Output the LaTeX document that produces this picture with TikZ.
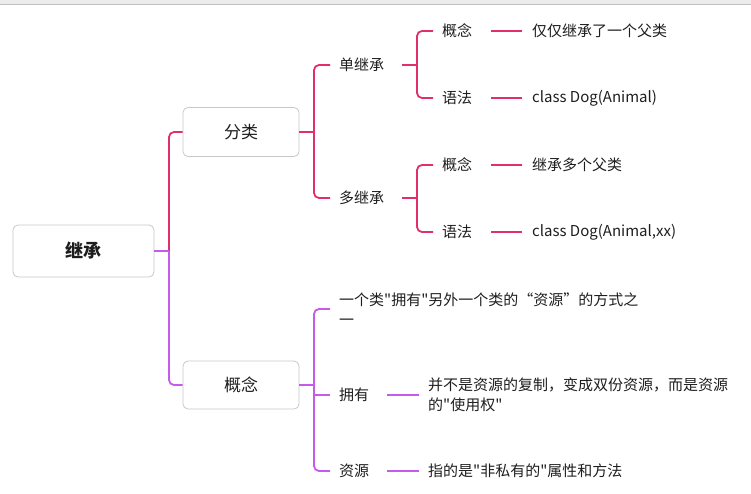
\documentclass[tikz,border=0pt]{standalone}
\usepackage{fontspec}
\newfontfamily\cjk{Noto Sans CJK SC}
\newfontfamily\cjkfw{Noto Sans CJK SC}[CharacterWidth=Full]
\usetikzlibrary{calc}
\definecolor{redl}{RGB}{225,48,105}
\definecolor{purl}{RGB}{197,90,235}
\definecolor{txt}{RGB}{30,30,30}
\definecolor{boxline}{RGB}{200,200,200}
\definecolor{bandfill}{RGB}{236,236,236}
\definecolor{bandline}{RGB}{192,192,192}
\tikzset{
  base/.style={text=txt, font=\cjk\fontsize{15}{20}\selectfont},
  topicbox/.style={base, draw=boxline, line width=0.8pt, rounded corners=5pt, fill=white, font=\cjk\fontsize{17}{20}\selectfont, minimum width=116pt, minimum height=49pt, inner sep=0pt},
  rootbox/.style={topicbox, minimum width=141pt, minimum height=52pt, font=\cjk\fontsize{18}{20}\selectfont\bfseries},
  lab/.style={base, anchor=west, inner xsep=9pt, inner ysep=2pt, align=left},
  rl/.style={draw=redl, line width=1.8pt},
  pl/.style={draw=purl, line width=1.8pt},
  rc/.style={rounded corners=5pt},
}
\begin{document}
\begin{tikzpicture}[x=1pt,y=-1pt]
\useasboundingbox (0,0) rectangle (751,493);
\fill[bandfill] (0,0) rectangle (751,4);
\draw[bandline, line width=1pt] (0,4.5) -- (751,4.5);

% main boxes
\node[rootbox] (root) at (83.5,251) {继承};
\node[topicbox] (fl) at (241,132) {分类};
\node[topicbox, minimum height=48pt] (gn) at (241,385) {概念};

% level 2
\node[lab, text width=54pt] (dan) at (330,65) {单继承};
\node[lab, text width=54pt] (duo) at (330,198) {多继承};
\node[lab] (gd) at (330,309) {一个类"拥有"另外一个类的{\cjkfw “}资源{\cjkfw ”}的方式之\\一};
\node[lab, text width=39pt] (yy) at (330,395) {拥有};
\node[lab, text width=39pt] (zy) at (330,471) {资源};

% level 3
\node[lab, text width=40pt] (g1) at (433,31) {概念};
\node[lab, text width=40pt] (y1) at (433,98) {语法};
\node[lab, text width=40pt] (g2) at (433,165) {概念};
\node[lab, text width=40pt] (y2) at (433,232) {语法};

% leaves
\node[lab, inner xsep=10pt] (l1) at (522,31) {仅仅继承了一个父类};
\node[lab, inner xsep=10pt] (l2) at (522,98) {class Dog(Animal)};
\node[lab, inner xsep=10pt] (l3) at (522,165) {继承多个父类};
\node[lab, inner xsep=10pt] (l4) at (522,232) {class Dog(Animal,xx)};
\node[lab] (l5) at (419,395) {并不是资源的复制，变成双份资源，而是资源\\的"使用权"};
\node[lab] (l6) at (419,471) {指的是"非私有的"属性和方法};

% junctions
\coordinate (j1) at (169,251);
\coordinate (j2) at (314,132);
\coordinate (j3) at (417,65);
\coordinate (j4) at (417,198);
\coordinate (j5) at (314,385);

% connectors: root
\draw[rl, rc] (j1) |- (fl.west);
\draw[pl] (root.east) -- (j1);
\draw[pl, rc] (j1) |- (gn.west);

% 分类
\draw[rl] (fl.east) -- (j2);
\draw[rl, rc] (j2) |- (dan.west);
\draw[rl, rc] (j2) |- (duo.west);

% 单继承
\draw[rl] (dan.east) -- (j3);
\draw[rl, rc] (j3) |- (g1.west);
\draw[rl, rc] (j3) |- (y1.west);
\draw[rl] (g1.east) -- (l1.west);
\draw[rl] (y1.east) -- (l2.west);

% 多继承
\draw[rl] (duo.east) -- (j4);
\draw[rl, rc] (j4) |- (g2.west);
\draw[rl, rc] (j4) |- (y2.west);
\draw[rl] (g2.east) -- (l3.west);
\draw[rl] (y2.east) -- (l4.west);

% 概念
\draw[pl] (gn.east) -- (j5);
\draw[pl, rc] (j5) |- (gd.west);
\draw[pl] (j5) -- (j5 |- yy.west) -- (yy.west);
\draw[pl, rc] (j5) |- (zy.west);
\draw[pl] (yy.east) -- (l5.west);
\draw[pl] (zy.east) -- (l6.west);
\end{tikzpicture}
\end{document}
